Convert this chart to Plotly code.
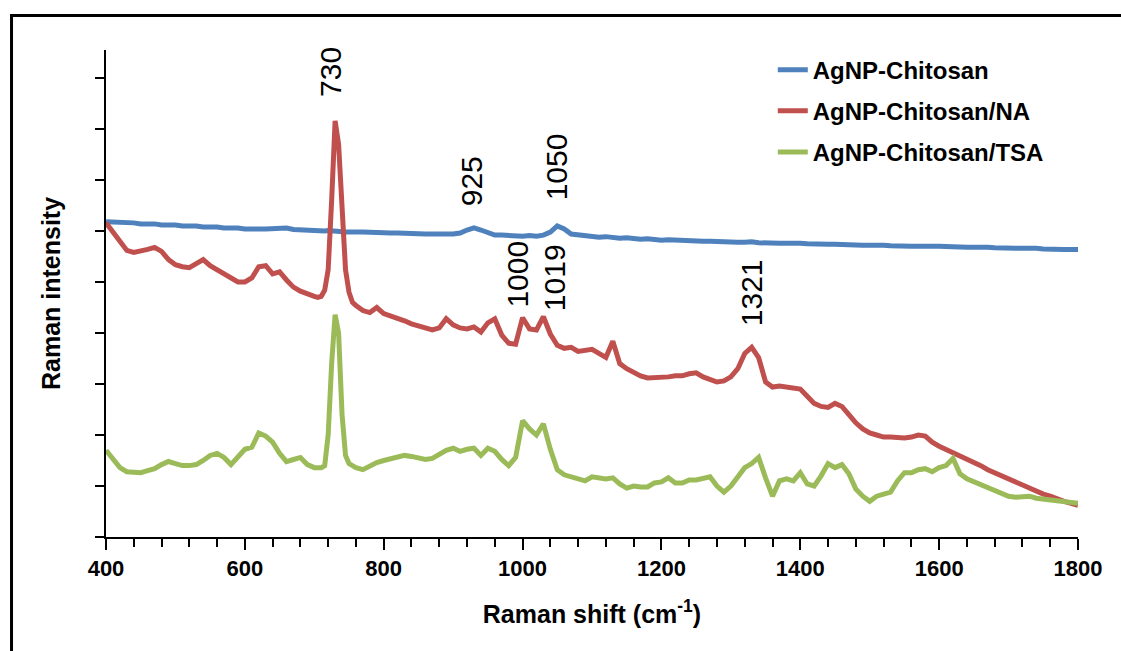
import plotly.graph_objects as go

# Raman shift grid (cm-1): 10 cm-1 steps, 5 cm-1 steps around the 730 band
raman_shift = list(range(400, 700, 10)) + list(range(700, 760, 5)) + list(range(760, 1810, 10))

agnp_chitosan = [
    309, 309, 308, 308.5, 308, 307, 307.5, 307, 306, 306.5,
    306, 305, 305.5, 305, 304, 304.5, 304, 303, 303.5, 303,
    302, 302.5, 302, 302, 302, 303, 303, 301.5, 301, 300.5,
    300, 300.5, 300, 300, 300.5, 300, 299.5, 299, 299.5, 299, 299, 299.5,
    299, 299, 298.5, 298, 298.5, 298, 298, 297.5, 297, 297.5,
    297, 297, 297.5, 297, 297, 298, 301, 303, 301, 298,
    296, 296, 295.5, 295, 295, 295.5, 295, 296, 299, 305,
    302, 297, 296, 295.5, 294.5, 294, 294.5, 293.5, 293, 293.5,
    292.5, 292, 292.5, 291.5, 291, 291.5, 291, 290.5, 290, 290.5,
    290, 290, 289.5, 289, 289.5, 289, 289, 289.5, 288.5, 288,
    288.5, 288, 288, 288.5, 288, 287.5, 287, 287.5, 287, 287,
    286.5, 286, 286.5, 286, 286, 286.5, 286, 285.5, 285, 285.5,
    285, 285, 285.5, 285, 285, 284.5, 284, 284.5, 284, 284,
    284.5, 284, 283.5, 283, 283.5, 283, 283, 283.5, 283, 282.5,
    282, 282.5, 282, 282, 282,
]

agnp_chitosan_na = [
    308, 299, 288, 281, 279, 280, 282, 284, 280, 272,
    267, 265, 264, 268, 272, 266, 262, 257, 253, 250,
    250, 254, 265, 266, 258, 260, 252, 245, 241, 238,
    236, 235, 236, 242, 262, 330, 408, 385, 310, 262, 240, 230,
    227, 222, 220, 225, 219, 217, 215, 212, 209, 207,
    206, 203, 205, 214, 208, 205, 204, 206, 201, 210,
    214, 198, 190, 189, 215, 204, 203, 216, 199, 188,
    185, 186, 182, 183, 184, 180, 176, 192, 170, 165,
    161, 158, 156, 156, 157, 157, 158, 158, 160, 161,
    157, 155, 152, 153, 157, 165, 180, 186, 176, 152,
    147, 148, 147, 146, 145, 138, 131, 128, 127, 131,
    128, 120, 112, 106, 102, 100, 98, 98, 97, 97,
    98, 100, 99, 93, 89, 86, 83, 80, 77, 74,
    70, 66, 63, 60, 57, 54, 50, 47, 45, 42,
    40, 37, 35, 33, 31,
]

agnp_chitosan_tsa = [
    85, 76, 68, 64, 63, 63, 65, 67, 71, 74,
    72, 70, 70, 71, 75, 80, 82, 78, 71, 78,
    86, 88, 102, 99, 93, 82, 74, 76, 78, 71,
    68, 68, 68, 70, 100, 170, 218, 200, 120, 80, 72, 70,
    68, 66, 70, 73, 75, 77, 79, 80, 79, 77,
    76, 77, 81, 85, 87, 84, 86, 87, 80, 87,
    84, 76, 70, 78, 114, 106, 100, 111, 86, 66,
    61, 59, 58, 55, 59, 58, 57, 58, 52, 48,
    50, 49, 49, 53, 54, 58, 53, 53, 56, 56,
    57, 59, 50, 44, 50, 60, 68, 72, 78, 58,
    40, 55, 57, 55, 63, 52, 50, 60, 72, 68,
    71, 62, 47, 40, 35, 40, 42, 44, 55, 63,
    63, 66, 67, 64, 68, 70, 77, 62, 57, 54,
    51, 48, 46, 43, 40, 39, 39, 40, 38, 37,
    36, 35, 35, 34, 33,
]

series_names = ["AgNP-Chitosan", "AgNP-Chitosan/NA", "AgNP-Chitosan/TSA"]
series_colors = ["#4F81BD", "#C0504D", "#9BBB59"]

# peak labels: text, x position (cm-1), y position (intensity)
peak_labels = ["730", "925", "1050", "1000", "1019", "1321"]
peak_label_x = [724, 926, 1049, 993, 1047, 1329]
peak_label_y = [456, 349, 363, 258, 254, 240]

fig = go.Figure()
for name, ys, col in zip(series_names, [agnp_chitosan, agnp_chitosan_na, agnp_chitosan_tsa], series_colors):
    fig.add_trace(go.Scatter(
        x=raman_shift, y=ys, mode="lines", name=name, legendgroup=name,
        line=dict(color=col, width=5),
    ))

for t, px_, py_ in zip(peak_labels, peak_label_x, peak_label_y):
    fig.add_annotation(
        x=px_, y=py_, xref="x", yref="y", text=t, showarrow=False,
        textangle=-90, xanchor="center", yanchor="middle",
        font=dict(family="Liberation Sans, Arial, sans-serif", size=30, color="black"),
    )

# outer frame (left and top edges visible)
fig.add_shape(type="rect", xref="paper", yref="paper",
              x0=-0.0972, x1=1.2, y0=-0.4, y1=1.0709,
              line=dict(color="black", width=3), fillcolor="rgba(0,0,0,0)", layer="below")

fig.update_layout(
    width=1121, height=651,
    margin=dict(l=106, r=43, t=50, b=114),
    paper_bgcolor="white", plot_bgcolor="white",
    font=dict(family="Liberation Sans, Arial, sans-serif", color="black"),
    showlegend=True,
    legend=dict(
        x=0.686, y=1.005, xanchor="left", yanchor="top",
        font=dict(family="Liberation Sans, Arial, sans-serif", size=24, color="black", weight="bold"),
        bgcolor="rgba(0,0,0,0)", tracegroupgap=7, itemwidth=30,
    ),
    xaxis=dict(
        range=[400, 1800], tick0=400, dtick=200,
        showline=True, linecolor="black", linewidth=2,
        ticks="outside", ticklen=11, tickwidth=2, tickcolor="black",
        minor=dict(dtick=40, ticks="outside", ticklen=8, tickwidth=2, tickcolor="black"),
        showgrid=False, zeroline=False,
        tickfont=dict(family="Liberation Sans, Arial, sans-serif", size=22, color="black", weight="bold"),
        title=dict(text="Raman shift (cm<sup>-1</sup>)", standoff=25,
                   font=dict(family="Liberation Sans, Arial, sans-serif", size=25, color="black", weight="bold")),
    ),
    yaxis=dict(
        range=[0, 477.5], tick0=0, dtick=50,
        showline=True, linecolor="black", linewidth=2,
        ticks="outside", ticklen=9, tickwidth=2, tickcolor="black",
        showticklabels=False, showgrid=False, zeroline=False,
        title=dict(text="Raman intensity", standoff=27,
                   font=dict(family="Liberation Sans, Arial, sans-serif", size=25, color="black", weight="bold")),
    ),
)

fig.write_html("out.html")
